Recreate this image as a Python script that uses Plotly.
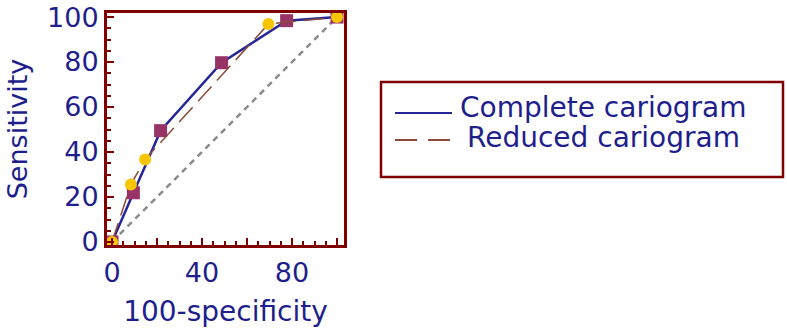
import plotly.graph_objects as go

# Data
complete_x = [0, 9.5, 21.6, 48.7, 77.6, 100]
complete_y = [0, 21.9, 49.5, 79.7, 98.4, 100]
reduced_x = [0, 8.4, 14.7, 69.5, 100]
reduced_y = [0, 25.6, 36.7, 96.9, 100]
diag_x = [0, 100]
diag_y = [0, 100]
tick_vals = [0, 20, 40, 60, 80, 100]
x_tick_text = ["0", "", "40", "", "80", ""]
y_tick_text = ["0", "20", "40", "60", "80", "100"]
series_names = ["Complete cariogram", "Reduced cariogram"]

W, H = 787, 333
PLOT_L, PLOT_R, PLOT_T, PLOT_B = 107, 344, 13, 245   # page pixels
ML, MT = PLOT_L, PLOT_T
MR, MB = W - PLOT_R, H - PLOT_B
PW = PLOT_R - PLOT_L
PH = PLOT_B - PLOT_T

def px_x(p):
    return (p - PLOT_L) / PW

def px_y(p):
    return (PLOT_B - p) / PH

TEXT = "#1f1f8c"
FRAME = "#800000"
BLUE = "#262699"
BROWN = "#8b4a3a"
FONT = "DejaVu Sans"

fig = go.Figure()
fig.add_trace(go.Scatter(x=diag_x, y=diag_y, mode="lines",
                         line=dict(color="#8a8a8a", width=2.5, dash="6px,5px"),
                         showlegend=False, hoverinfo="skip"))
fig.add_trace(go.Scatter(x=complete_x, y=complete_y, mode="lines+markers",
                         name=series_names[0],
                         line=dict(color=BLUE, width=2.5),
                         marker=dict(symbol="square", size=13, color="#993366"),
                         showlegend=False))
fig.add_trace(go.Scatter(x=reduced_x, y=reduced_y, mode="lines+markers",
                         name=series_names[1],
                         line=dict(color=BROWN, width=1.5, dash="20px,8px"),
                         marker=dict(symbol="circle", size=12, color="#f7c600"),
                         showlegend=False))

axis_common = dict(
    automargin=False,
    showline=True, linecolor=FRAME, linewidth=3, mirror=True,
    showgrid=False, zeroline=False,
    ticks="inside", ticklen=7, tickwidth=2, tickcolor=FRAME,
    tickmode="array", tickvals=tick_vals,
    ticklabeloverflow="allow",
    tickfont=dict(family=FONT, size=27, color=TEXT),
    minor=dict(ticks="inside", ticklen=4, tickwidth=1.5, tickcolor=FRAME,
               dtick=5, tick0=0, showgrid=False),
)

fig.update_xaxes(**axis_common, range=[-2.22, 103.1], ticktext=x_tick_text,
                 ticklabelstandoff=2,
                 title=dict(text="100-specificity",
                            font=dict(family=FONT, size=28, color=TEXT),
                            standoff=14))
fig.update_yaxes(**axis_common, range=[-1.33, 101.8], ticktext=y_tick_text,
                 ticklabelstandoff=0,
                 title=dict(text="Sensitivity",
                            font=dict(family=FONT, size=27, color=TEXT),
                            standoff=12))

# Manual legend box
shapes = [
    dict(type="rect", xref="paper", yref="paper",
         x0=px_x(381), x1=px_x(783), y0=px_y(177), y1=px_y(82),
         line=dict(color=FRAME, width=2.5), fillcolor="white"),
    dict(type="line", xref="paper", yref="paper",
         x0=px_x(395), x1=px_x(452), y0=px_y(113), y1=px_y(113),
         line=dict(color=BLUE, width=2)),
    dict(type="line", xref="paper", yref="paper",
         x0=px_x(395), x1=px_x(452), y0=px_y(140), y1=px_y(140),
         line=dict(color=BROWN, width=2, dash="22px,11px")),
]
annotations = [
    dict(text=series_names[0], xref="paper", yref="paper",
         x=px_x(458), y=px_y(108), xanchor="left", yanchor="middle",
         showarrow=False, font=dict(family=FONT, size=28, color=TEXT)),
    dict(text=series_names[1], xref="paper", yref="paper",
         x=px_x(465), y=px_y(137), xanchor="left", yanchor="middle",
         showarrow=False, font=dict(family=FONT, size=28, color=TEXT)),
]

fig.update_layout(
    width=W, height=H,
    margin=dict(l=ML, r=MR, t=MT, b=MB),
    paper_bgcolor="white", plot_bgcolor="white",
    shapes=shapes, annotations=annotations,
    showlegend=False,
)

# Remove the browser's default 8px body margin so the figure fills the window.
fig.write_html("out.html", config={"displayModeBar": False},
               post_script="document.body.style.margin='0';")
